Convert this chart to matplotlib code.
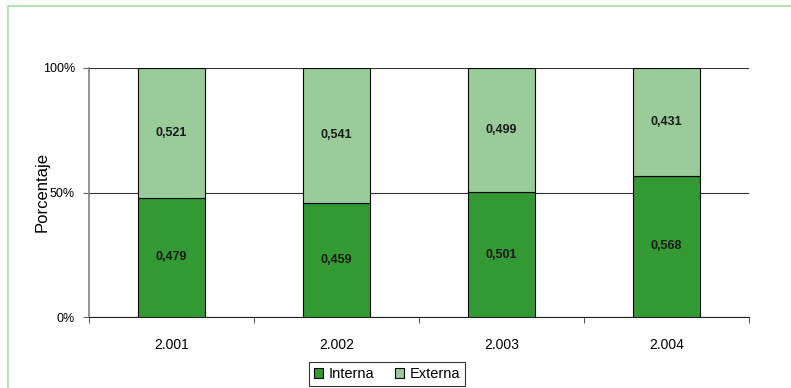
import matplotlib.pyplot as plt
from matplotlib.patches import Rectangle
import numpy as np

# data
years = ['2.001', '2.002', '2.003', '2.004']
interna = [0.479, 0.459, 0.501, 0.568]
externa = [0.521, 0.541, 0.499, 0.431]

dark_green = '#339933'
light_green = '#99cc99'

plt.rcParams['font.family'] = ['Liberation Sans', 'DejaVu Sans']

fig = plt.figure(figsize=(7.91, 3.88), dpi=100)
# light green frame around the chart
fig.patches.append(Rectangle((8 / 791, -0.1), 1.2, 1.1 - 6 / 388, transform=fig.transFigure,
                             fill=False, edgecolor='#a8dca8', linewidth=1.2))

ax = fig.add_axes([89 / 791, 1 - 317 / 388, 660 / 791, 249 / 388])

x = np.arange(len(years))
width = 0.41
ax.bar(x, interna, width=width, color=dark_green, edgecolor='black', linewidth=0.8,
       label='Interna', zorder=3)
ax.bar(x, externa, width=width, bottom=interna, color=light_green, edgecolor='black',
       linewidth=0.8, label='Externa', zorder=3)

for i in range(len(years)):
    ax.text(x[i], interna[i] / 2, f'{interna[i]:.3f}'.replace('.', ','), ha='center',
            va='center', fontsize=9, fontweight='bold', color='#1a1a1a', zorder=4)
    ax.text(x[i], interna[i] + externa[i] / 2, f'{externa[i]:.3f}'.replace('.', ','),
            ha='center', va='center', fontsize=9, fontweight='bold', color='#1a1a1a', zorder=4)

ax.set_xlim(-0.5, len(years) - 0.5)
ax.set_ylim(0, 1)
ax.set_yticks([0, 0.5, 1])
ax.set_yticklabels(['0%', '50%', '100%'], fontsize=9)
ax.yaxis.grid(True, color='#333333', linewidth=0.8, zorder=0)

ax.set_xticks(x)
ax.set_xticklabels(years, fontsize=10)
ax.tick_params(axis='x', length=0, pad=15)
ax.set_xticks(np.arange(len(years) + 1) - 0.5, minor=True)
ax.tick_params(axis='x', which='minor', length=4, direction='out', color='#333333')
ax.tick_params(axis='y', length=4, direction='out', color='#666666', pad=6)

for side in ['top', 'right']:
    ax.spines[side].set_visible(False)
ax.spines['left'].set_color('#808080')
ax.spines['left'].set_linewidth(1.2)
ax.spines['bottom'].set_color('#222222')

ax.set_ylabel('Porcentaje', fontsize=12)
ax.yaxis.set_label_coords(-0.06, 0.5)

leg = fig.legend(loc='upper center', bbox_to_anchor=(387 / 791, 1 - 362 / 388), ncol=2,
                 fontsize=10.5, frameon=True, fancybox=False, edgecolor='black',
                 handlelength=0.6, handleheight=0.6, handletextpad=0.4, columnspacing=1.4,
                 borderpad=0.35, borderaxespad=0)
leg.get_frame().set_linewidth(0.8)

fig.savefig('out.png', dpi=100)
